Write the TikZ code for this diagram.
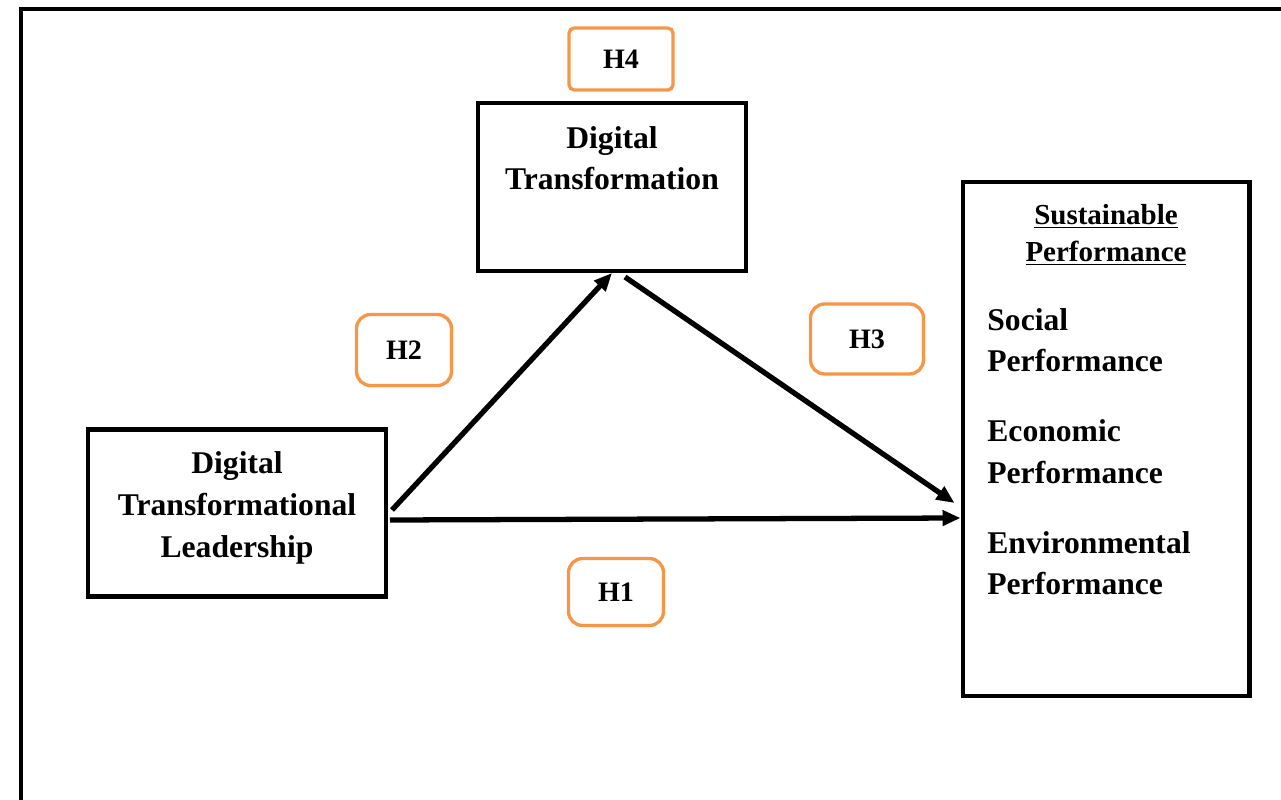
\documentclass[tikz,border=0pt]{standalone}
\usepackage{fontspec}
\setmainfont{Liberation Serif}
\usetikzlibrary{positioning,arrows.meta,calc}
\definecolor{hyp}{HTML}{F79646}

\begin{document}
\begin{tikzpicture}[x=0.02cm,y=-0.02cm,
          var/.style={draw,line width=2.3pt,inner sep=0pt},
          hbox/.style={draw=hyp,line width=1.9pt,rounded corners=6pt,inner sep=0pt,
            font=\fontsize{16}{20}\selectfont\bfseries},
          link/.style={line width=3pt,-{Triangle[length=0.36cm,width=0.3cm]}},
          vtext/.style={inner sep=0pt,font=\fontsize{18}{23.5}\selectfont\bfseries}]
        \useasboundingbox (0,0) rectangle (1281,800);
        % outer frame, open at right and bottom
        \draw[line width=2.3pt] (1281,9) -- (21,9) -- (21,800);
        % variables
        \node[var,minimum width=5.96cm,minimum height=3.34cm,align=center,text depth=9.5pt,
              font=\fontsize{18}{23.9}\selectfont\bfseries] (dtl) at (237,513)
              {Digital\\Transformational\\Leadership};
        \node[var,minimum width=5.36cm,minimum height=3.36cm] (dt) at (612,187){};
        \node[var,minimum width=5.74cm,minimum height=10.28cm] (sp) at (1106,439){};
        \node[vtext,align=center,anchor=north] (dtlabel) at ($(dt.north)+(0,25)$)
              {Digital\\Transformation};
        \node[inner sep=0pt,align=center,anchor=north,font=\fontsize{16.5}{21}\selectfont\bfseries]
              (sphead) at ($(sp.north)+(0,24)$) {\underline{Sustainable}\\\underline{Performance}};
        \node[vtext,align=left,anchor=north west] (spitems) at (987,308)
              {Social\\Performance\\[16.5pt]Economic\\Performance\\[16.5pt]Environmental\\Performance};
        % hypotheses
        \node[hbox,rounded corners=3pt,minimum width=2.08cm,minimum height=1.24cm] (h4) at (621,59){H4};
        \node[hbox,rounded corners=8pt,minimum width=1.9cm,minimum height=1.42cm] (h2) at (404,350){H2};
        \node[hbox,rounded corners=8pt,minimum width=2.26cm,minimum height=1.4cm] (h3) at (867,339){H3};
        \node[hbox,rounded corners=8pt,minimum width=1.9cm,minimum height=1.34cm] (h1) at (616,592){H1};
        % paths
        \draw[link] ($(dtl.east)+(4,-3)$) -- (dt.south);
        \draw[link] ($(dt.south)+(13,4)$) -- ($(sp.west)+(-6,64)$);
        \draw[link] ($(dtl.east)+(2,7)$) -- ($(sp.west)+(0,79)$);
      \end{tikzpicture}
\end{document}
